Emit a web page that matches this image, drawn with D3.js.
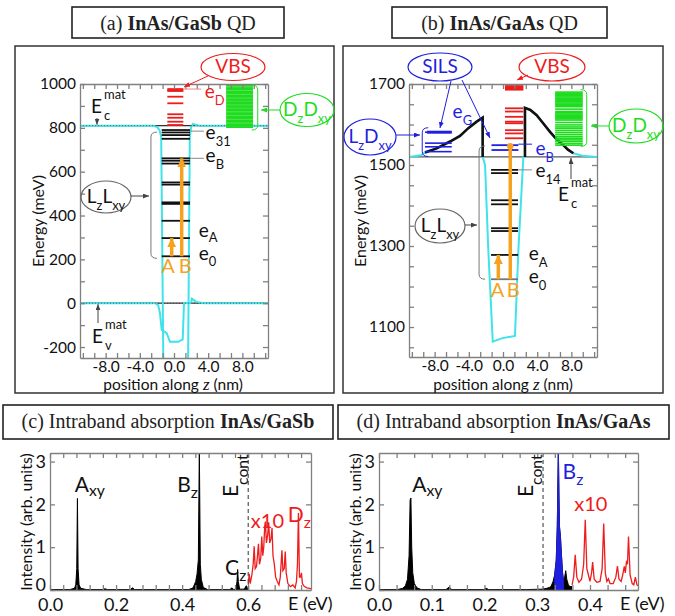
<!DOCTYPE html>
<html>
<head>
<meta charset="utf-8">
<script src="https://cdn.jsdelivr.net/npm/d3@7/dist/d3.min.js"></script>
<style>
  body { margin: 0; background: #fff; }
  svg { display: block; font-family: Lato, "Open Sans", sans-serif; }
</style>
</head>
<body>
<script>
// ---- (a) InAs/GaSb QD : energies in meV, positions in nm
const gasbBound = [214, 297, 376, 453, 460, 541, 551, 637, 650, 661, 750, 767, 779, 790]
const gasbVbs = [968, 972, 977, 942, 912, 862, 846, 828, 813]
const gasbCont = [803, 809, 815, 822, 828, 834, 841, 847, 853, 860, 866, 872, 879, 885, 891, 898,
  904, 910, 917, 923, 929, 936, 942, 948, 955, 961, 967, 974, 980, 986, 993, 998]
const gasbCB = [[-11, 810], [-2.4, 810], [-2.0, 804], [-1.7, 790], [-1.5, 760], [-1.25, -260],
  [1.65, -260], [1.85, 760], [2.0, 802], [2.2, 818], [2.5, 814], [3.0, 810], [11, 810]]
const gasbVB = [[-11, 0], [-2.2, 0], [-1.85, -9], [-1.64, -46], [-1.44, -122], [-0.85, -137],
  [-0.47, -176], [0.51, -176], [1.02, -165], [1.17, 0], [2.0, 2], [2.1, 20], [2.6, 6], [3.5, 0], [11, 0]]
const gasbEcMat = 810
const gasbLevels = { e0: 214, eA: 297, eB: 661, e31: 785, eD: 977 }

// ---- (b) InAs/GaAs QD
const gaasBound = [1218, 1278, 1337, 1344, 1403, 1413, 1480, 1488]
const gaasSilsDot = [1537, 1549]
const gaasSilsSide = [1533, 1545, 1554, 1581]
const gaasVbs = [1686, 1689, 1692, 1695, 1640, 1632, 1619, 1607, 1603, 1586, 1578, 1566]
const gaasCont = [1549, 1553, 1558, 1562, 1566, 1570, 1575, 1580, 1585, 1590, 1594, 1599, 1605,
  1611, 1614, 1617, 1620, 1623, 1626, 1629, 1632, 1638, 1644, 1647, 1650, 1653, 1656, 1659,
  1662, 1665, 1668, 1671, 1674, 1677, 1680]
const gaasStrainL = [[-9.13, 1531], [-7.76, 1541], [-6.2, 1558], [-5.03, 1572], [-4.06, 1591],
  [-3.08, 1607], [-2.38, 1617], [-2.38, 1520]]
const gaasStrainR = [[2.57, 1520], [2.57, 1641], [3.2, 1636], [3.94, 1623], [4.7, 1603],
  [5.5, 1582], [6.3, 1563], [7.06, 1549], [7.6, 1538], [8.23, 1529]]
const gaasCB = [[-11, 1520], [-9.6, 1524], [-9.13, 1531], [-7.76, 1541], [-6.2, 1558],
  [-5.03, 1572], [-4.06, 1591], [-3.08, 1607], [-2.38, 1617], [-2.38, 1520], [-2.1, 1500],
  [-1.72, 1290], [-1.2, 1064], [-0.15, 1072], [1.4, 1078], [1.8, 1290], [2.38, 1520],
  [2.57, 1520], [2.57, 1641], [3.2, 1636], [3.94, 1623], [4.7, 1603], [5.5, 1582], [6.3, 1563],
  [7.06, 1549], [7.6, 1538], [8.23, 1529], [9.3, 1523], [11, 1520]]
const gaasEcMat = 1520
const gaasLevels = { e0: 1218, eA: 1278, e14: 1488, eB: 1549, eG: 1581 }

// ---- (c) absorption InAs/GaSb : [E (eV), intensity]
const gasbSpec = [[0, 0.01], [0.06, 0.01], [0.074, 0.04], [0.078, 0.12], [0.081, 0.5], [0.083, 2.14],
  [0.085, 0.5], [0.088, 0.12], [0.093, 0.04], [0.11, 0.01], [0.16, 0.01], [0.167, 0.03], [0.173, 0.01],
  [0.243, 0.01], [0.25, 0.05], [0.256, 0.01], [0.42, 0.01], [0.433, 0.05], [0.441, 0.2], [0.445, 0.37],
  [0.449, 0.7], [0.452, 3.3], [0.455, 0.6], [0.458, 0.25], [0.464, 0.06], [0.477, 0.01], [0.544, 0.01],
  [0.551, 0.05], [0.556, 0.01], [0.563, 0.02], [0.566, 0.2], [0.568, 0.48], [0.570, 0.2], [0.574, 0.02],
  [0.588, 0.02], [0.594, 0.1], [0.598, 0.03], [0.6, 0.02]]
const gasbSpecX10 = [[0.600, 0.12], [0.603, 0.38], [0.606, 0.15], [0.611, 0.35], [0.615, 0.6],
  [0.618, 1.02], [0.621, 0.5], [0.625, 0.55], [0.628, 0.8], [0.631, 1.08], [0.634, 0.6], [0.638, 0.75],
  [0.641, 1.25], [0.644, 0.8], [0.647, 1.0], [0.650, 1.5], [0.652, 1.6], [0.655, 1.1], [0.659, 1.3],
  [0.662, 1.58], [0.665, 1.1], [0.669, 1.2], [0.672, 1.45], [0.675, 0.8], [0.679, 0.6], [0.683, 0.3],
  [0.688, 0.2], [0.693, 0.12], [0.697, 0.3], [0.702, 0.93], [0.705, 0.45], [0.709, 0.5], [0.712, 0.9],
  [0.715, 0.4], [0.72, 0.15], [0.728, 0.08], [0.735, 0.12], [0.742, 0.05], [0.746, 0.2], [0.749, 0.6],
  [0.752, 1.8], [0.755, 0.3], [0.758, 0.3], [0.761, 0.4], [0.764, 0.15], [0.77, 0.08], [0.778, 0.05],
  [0.79, 0.03]]
const gasbEcont = 0.600

// ---- (d) absorption InAs/GaAs
const gaasSpec = [[0, 0.01], [0.035, 0.01], [0.045, 0.04], [0.05, 0.1], [0.054, 0.25], [0.057, 0.8],
  [0.059, 2.1], [0.0605, 2.15], [0.062, 1.0], [0.064, 0.4], [0.067, 0.15], [0.072, 0.05], [0.08, 0.01],
  [0.127, 0.01], [0.133, 0.07], [0.138, 0.01], [0.198, 0.01], [0.203, 0.04], [0.208, 0.01],
  [0.28, 0.01], [0.31, 0.02], [0.318, 0.04], [0.323, 0.06], [0.326, 0.08], [0.33, 0.2], [0.333, 0.35],
  [0.336, 0.7], [0.338, 1.5], [0.34, 3.3], [0.342, 1.5], [0.344, 1.25], [0.346, 0.8], [0.348, 0.4],
  [0.35, 0.2], [0.352, 0.3], [0.354, 0.45], [0.356, 0.25], [0.359, 0.12], [0.362, 0.08], [0.366, 0.08]]
const gaasBz = [[0.333, 0.35], [0.336, 0.7], [0.338, 1.5], [0.34, 3.3], [0.342, 1.5], [0.344, 1.25],
  [0.346, 0.8], [0.348, 0.4], [0.35, 0.2]]
const gaasSpecX10 = [[0.366, 0.12], [0.369, 0.3], [0.372, 0.82], [0.375, 0.3], [0.379, 0.18],
  [0.384, 0.25], [0.388, 0.6], [0.391, 1.64], [0.394, 0.5], [0.397, 0.35], [0.4, 0.2], [0.403, 0.4],
  [0.405, 0.65], [0.408, 0.25], [0.413, 0.18], [0.419, 0.2], [0.423, 0.5], [0.426, 1.55], [0.429, 0.4],
  [0.432, 0.2], [0.435, 0.26], [0.438, 0.15], [0.444, 0.15], [0.449, 0.3], [0.452, 0.56], [0.455, 0.25],
  [0.459, 0.2], [0.462, 0.35], [0.465, 0.55], [0.467, 0.4], [0.469, 0.65], [0.471, 0.6], [0.473, 1.25],
  [0.476, 0.35], [0.48, 0.15], [0.483, 0.12], [0.486, 0.3], [0.489, 0.12], [0.491, 0.1]]
const gaasEcont = 0.311

// tick labels
const qdXLabels = [-8, -4, 0, 4, 8]
const gasbYLabels = [-200, 0, 200, 400, 600, 800, 1000]
const gaasYLabels = [1100, 1300, 1500, 1700]
const gasbELabels = [0, 0.2, 0.4, 0.6]
const gaasELabels = [0, 0.1, 0.2, 0.3, 0.4]
const intLabels = [0, 1, 2, 3]

const C = { cyan: "#3fe3ea", red: "#ee1c1c", green: "#1fdc1f", blue: "#1f1fe0", orange: "#f6a21e", axis: "#808080" }

const svg = d3.select("body").append("svg").attr("width", 675).attr("height", 616)
const defs = svg.append("defs")

function marker(id, color, len, wid) {
  defs.append("marker").attr("id", id).attr("markerUnits", "userSpaceOnUse")
    .attr("viewBox", `0 0 ${len} ${wid}`).attr("refX", len).attr("refY", wid / 2)
    .attr("markerWidth", len).attr("markerHeight", wid).attr("orient", "auto")
    .append("path").attr("d", `M0,0L${len},${wid / 2}L0,${wid}Z`).attr("fill", color)
}
marker("arK", "#444", 6, 5)
marker("arR", C.red, 6, 5)
marker("arG", C.green, 6, 5)
marker("arB", C.blue, 6, 5)
marker("arO", C.orange, 9, 9)

// text with sub/superscripts, parts = [[text, ""|"sub"|"sup"], ...]
function rich(g, x, y, parts, o = {}) {
  let fs = o.size || 19
  let t = g.append("text").attr("x", x).attr("y", y).attr("font-size", fs)
    .attr("fill", o.color || "#111").attr("text-anchor", o.anchor || "start")
  if (o.rotate) t.attr("transform", `rotate(${o.rotate},${x},${y})`)
  let shift = 0
  parts.forEach(([s, k]) => {
    let target = k === "sub" ? fs * (o.subShift || 0.35) : k === "sup" ? -fs * 0.5 : 0
    t.append("tspan").attr("dy", target - shift).attr("font-size", k ? fs * (o.subScale || 0.68) : fs).text(s)
    shift = target
  })
  return t
}

function eMat(g, x, y, sub) {
  g.append("text").attr("x", x).attr("y", y).attr("font-size", 19).attr("fill", "#111").text("E")
  g.append("text").attr("x", x + 13).attr("y", y - 14).attr("font-size", 13).attr("fill", "#111").text("mat")
  g.append("text").attr("x", x + 13).attr("y", y + 7).attr("font-size", 13).attr("fill", "#111").text(sub)
}

function arrow(g, x1, y1, x2, y2, color, mk) {
  g.append("line").attr("x1", x1).attr("y1", y1).attr("x2", x2).attr("y2", y2)
    .attr("stroke", color).attr("stroke-width", 1).attr("marker-end", `url(#${mk})`)
}

function callout(g, cx, cy, rx, ry, color, parts, tcolor) {
  g.append("ellipse").attr("cx", cx).attr("cy", cy).attr("rx", rx).attr("ry", ry)
    .attr("fill", "none").attr("stroke", color).attr("stroke-width", 1.2)
  rich(g, cx, cy + 6, parts, { anchor: "middle", color: tcolor || color, size: 19 })
}

function titleBox(x0, y0, x1, y1, pre, bold, post) {
  svg.append("rect").attr("x", x0).attr("y", y0).attr("width", x1 - x0).attr("height", y1 - y0)
    .attr("fill", "none").attr("stroke", "#222").attr("stroke-width", 1.6)
  let t = svg.append("text").attr("x", (x0 + x1) / 2).attr("y", y0 + 22.5)
    .attr("text-anchor", "middle").attr("font-family", "'Liberation Serif', 'DejaVu Serif', serif")
    .attr("font-size", 20).attr("fill", "#222")
  t.append("tspan").text(pre)
  t.append("tspan").attr("font-weight", "bold").text(bold)
  t.append("tspan").text(post)
}

function plotBox(id, left, top, width, height, xDomain, yDomain) {
  let g = svg.append("g").attr("transform", `translate(${left},${top})`)
  let x = d3.scaleLinear().domain(xDomain).range([0, width])
  let y = d3.scaleLinear().domain(yDomain).range([height, 0])
  defs.append("clipPath").attr("id", id).append("rect").attr("width", width).attr("height", height)
  let data = g.append("g").attr("clip-path", `url(#${id})`)
  return { g, x, y, data, width, height }
}

function drawAxes(p, xTicks, xFmt, yTicks, yFmt, fs, padX, padY) {
  let style = a => a.attr("font-size", fs).attr("font-family", "Lato, sans-serif")
    .call(s => s.selectAll("path, line").attr("stroke", C.axis).attr("stroke-width", 1.3))
    .call(s => s.selectAll("text").attr("fill", "#111"))
  p.g.append("g").attr("transform", `translate(0,${p.height})`)
    .call(d3.axisBottom(p.x).tickValues(xTicks).tickFormat(xFmt).tickSizeInner(-5).tickSizeOuter(0).tickPadding(padX))
    .call(style)
  p.g.append("g")
    .call(d3.axisTop(p.x).tickValues(xTicks).tickFormat("").tickSizeInner(-5).tickSizeOuter(0))
    .call(style)
  p.g.append("g")
    .call(d3.axisLeft(p.y).tickValues(yTicks).tickFormat(yFmt).tickSizeInner(-5).tickSizeOuter(0).tickPadding(padY))
    .call(style)
  p.g.append("g").attr("transform", `translate(${p.width},0)`)
    .call(d3.axisRight(p.y).tickValues(yTicks).tickFormat("").tickSizeInner(-5).tickSizeOuter(0))
    .call(style)
}

function levels(p, list, x0, x1, color, w) {
  p.data.append("g").selectAll("line").data(list).join("line")
    .attr("x1", p.x(x0)).attr("x2", p.x(x1))
    .attr("y1", d => p.y(d)).attr("y2", d => p.y(d))
    .attr("stroke", color).attr("stroke-width", w)
}

function bracket(g, x, yTop, yBot, dir, color) {
  // dir = +1 opens to the right "[", -1 opens to the left "]"
  let e = 6 * dir
  g.append("path").attr("fill", "none").attr("stroke", color).attr("stroke-width", 1)
    .attr("d", `M${x + e},${yTop} Q${x},${yTop} ${x},${yTop + 5} L${x},${yBot - 5} Q${x},${yBot} ${x + e},${yBot}`)
}

let lineGen = (p) => d3.line().x(d => p.x(d[0])).y(d => p.y(d[1]))

function qdPanel(p, xTickList, yTickList, yLabelFn) {
  drawAxes(p, xTickList, v => qdXLabels.some(l => Math.abs(l - v) < 1e-6) ? v.toFixed(1) : "",
    yTickList, yLabelFn, 15.5, 3, 4)
}

function xLabel(cx, y) {
  let t = svg.append("text").attr("x", cx).attr("y", y).attr("text-anchor", "middle")
    .attr("font-size", 15.5).attr("fill", "#111")
  t.append("tspan").text("position along ")
  t.append("tspan").attr("font-family", "'Liberation Serif', serif").attr("font-style", "italic").attr("font-size", 17).text("z")
  t.append("tspan").text("  (nm)")
}

function yLabel(x, cy, s) {
  svg.append("text").attr("transform", `translate(${x},${cy}) rotate(-90)`)
    .attr("text-anchor", "middle").attr("font-size", 16).attr("fill", "#111").text(s)
}

let qdXTicks = d3.range(-8, 9).map(k => k * 4 / 3)

// ================= (a) =================
titleBox(72, 7, 284, 38, "(a) ", "InAs/GaSb", " QD")
svg.append("rect").attr("x", 15).attr("y", 46).attr("width", 319).attr("height", 347)
  .attr("fill", "none").attr("stroke", "#333").attr("stroke-width", 1.5)

let pa = plotBox("clipA", 80, 84, 188, 274, [-11, 11], [-250, 1000])
{
  let { x, y, data } = pa
  ;[0, gasbEcMat].forEach(v => data.append("line").attr("x1", 0).attr("x2", pa.width)
    .attr("y1", y(v)).attr("y2", y(v)).attr("stroke", "#333").attr("stroke-width", 1.2))
  data.append("path").datum(gasbCB).attr("d", lineGen(pa)).attr("fill", "none").attr("stroke", C.cyan).attr("stroke-width", 2)
  data.append("path").datum(gasbVB).attr("d", lineGen(pa)).attr("fill", "none").attr("stroke", C.cyan).attr("stroke-width", 2)
  ;[0, gasbEcMat].forEach(v => data.append("line").attr("x1", 0).attr("x2", pa.width)
    .attr("y1", y(v)).attr("y2", y(v)).attr("stroke", "#333").attr("stroke-width", 1).attr("stroke-dasharray", "1,2").attr("opacity", 0.6))
  levels(pa, gasbCont, 6.1, 9.25, C.green, 1.6)
  levels(pa, gasbVbs, -0.78, 1.09, C.red, 1.8)
  levels(pa, gasbBound, -1.44, 1.87, "#111", 1.8)
  data.append("line").attr("x1", x(-0.27)).attr("x2", x(-0.27)).attr("y1", y(gasbLevels.e0)).attr("y2", y(gasbLevels.eA))
    .attr("stroke", C.orange).attr("stroke-width", 3.5).attr("marker-end", "url(#arO)")
  data.append("line").attr("x1", x(0.9)).attr("x2", x(0.9)).attr("y1", y(gasbLevels.e0)).attr("y2", y(gasbLevels.eB))
    .attr("stroke", C.orange).attr("stroke-width", 3.5).attr("marker-end", "url(#arO)")
}
qdPanel(pa, qdXTicks, d3.range(-200, 1001, 100), v => gasbYLabels.includes(v) ? v : "")
{
  let g = pa.g, x = pa.x, y = pa.y
  let L = gasbLevels
  // level labels with leader lines
  g.append("line").attr("x1", x(1.1)).attr("x2", x(3.2)).attr("y1", y(L.eD)).attr("y2", y(L.eD)).attr("stroke", "#e88").attr("stroke-width", 1)
  g.append("line").attr("x1", x(1.9)).attr("x2", x(3.5)).attr("y1", y(L.e31)).attr("y2", y(L.e31)).attr("stroke", "#888").attr("stroke-width", 1)
  g.append("line").attr("x1", x(1.9)).attr("x2", x(3.5)).attr("y1", y(L.eB)).attr("y2", y(L.eB)).attr("stroke", "#888").attr("stroke-width", 1)
  rich(g, x(3.6), y(L.eD) + 9, [["e", ""], ["D", "sub"]], { color: C.red })
  rich(g, x(3.7), y(L.e31) + 8, [["e", ""], ["31", "sub"]])
  rich(g, x(3.7), y(L.eB) + 4, [["e", ""], ["B", "sub"]])
  rich(g, x(2.9), y(L.eA) - 1, [["e", ""], ["A", "sub"]], { subShift: 0.28 })
  rich(g, x(2.9), y(L.e0) + 4, [["e", ""], ["0", "sub"]], { subShift: 0.28 })
  rich(g, x(-0.7), y(L.e0) + 17, [["A", ""]], { color: C.orange, anchor: "middle", size: 20 })
  rich(g, x(1.3), y(L.e0) + 17, [["B", ""]], { color: C.orange, anchor: "middle", size: 20 })
  bracket(g, x(-2.7), y(L.e31) + 1, y(L.e0) + 2, 1, "#777")
  bracket(g, x(9.8), y(1000) + 1, y(790), -1, C.green)
}
callout(svg, 233, 67, 32, 13.5, C.red, [["VBS", ""]])
arrow(svg, 208, 76, 184, 87, C.red, "arR")
callout(svg, 307, 110, 27, 16.5, C.green, [["D", ""], ["z", "sub"], ["D", ""], ["xy", "sub"]])
arrow(svg, 280, 110, 261, 110, C.green, "arG")
callout(svg, 106, 197, 25, 16, "#666", [["L", ""], ["z", "sub"], ["L", ""], ["xy", "sub"]], "#111")
arrow(svg, 131, 196, 149, 196, "#444", "arK")
eMat(svg, 91, 113, "c")
arrow(svg, 97, 118, 97, pa.y(gasbEcMat) + 84 - 1, "#444", "arK")
eMat(svg, 92, 343, "v")
arrow(svg, 98, 323, 98, pa.y(0) + 84 + 1, "#444", "arK")
yLabel(44, 221, "Energy (meV)")
xLabel(173, 390)

// ================= (b) =================
titleBox(392, 7, 607, 38, "(b) ", "InAs/GaAs", " QD")
svg.append("rect").attr("x", 343).attr("y", 46).attr("width", 320).attr("height", 347)
  .attr("fill", "none").attr("stroke", "#333").attr("stroke-width", 1.5)

let pb = plotBox("clipB", 409, 84, 188, 273, [-11, 11], [1026, 1700])
{
  let { x, y, data } = pb
  data.append("line").attr("x1", 0).attr("x2", pb.width).attr("y1", y(gaasEcMat)).attr("y2", y(gaasEcMat))
    .attr("stroke", "#555").attr("stroke-width", 1.2)
  data.append("path").datum(gaasCB).attr("d", lineGen(pb)).attr("fill", "none").attr("stroke", C.cyan).attr("stroke-width", 2)
  data.append("path").datum(gaasStrainL).attr("d", lineGen(pb)).attr("fill", "none").attr("stroke", "#111").attr("stroke-width", 2.6)
  data.append("path").datum(gaasStrainR).attr("d", lineGen(pb)).attr("fill", "none").attr("stroke", "#111").attr("stroke-width", 2.6)
  levels(pb, gaasCont, 6.1, 9.33, C.green, 1.6)
  levels(pb, gaasVbs, 0.23, 2.38, C.red, 1.8)
  levels(pb, gaasSilsSide, -9.13, -6.0, C.blue, 1.6)
  levels(pb, [gaasLevels.eG], -8.9, -6.0, C.blue, 3)
  levels(pb, gaasSilsDot, -1.35, 1.8, C.blue, 1.8)
  levels(pb, gaasBound.slice(1), -1.4, 1.76, "#111", 1.8)
  levels(pb, [gaasLevels.e0], -1.4, 1.76, "#777", 1.8)
  data.append("line").attr("x1", x(-0.55)).attr("x2", x(-0.55)).attr("y1", y(gaasLevels.e0)).attr("y2", y(gaasLevels.eA))
    .attr("stroke", C.orange).attr("stroke-width", 3.5).attr("marker-end", "url(#arO)")
  data.append("line").attr("x1", x(0.85)).attr("x2", x(0.85)).attr("y1", y(gaasLevels.e0)).attr("y2", y(gaasLevels.eB))
    .attr("stroke", C.orange).attr("stroke-width", 3.5)
  data.append("circle").attr("cx", x(0.85)).attr("cy", y(gaasLevels.eB) + 1).attr("r", 3.2).attr("fill", C.orange)
}
qdPanel(pb, qdXTicks, d3.range(1050, 1701, 50), v => gaasYLabels.includes(v) ? v : "")
{
  let g = pb.g, x = pb.x, y = pb.y
  let L = gaasLevels
  g.append("line").attr("x1", x(1.8)).attr("x2", x(3.4)).attr("y1", y(L.eB) - 1).attr("y2", y(L.eB) - 1).attr("stroke", C.blue).attr("stroke-width", 1)
  g.append("line").attr("x1", x(1.76)).attr("x2", x(3.4)).attr("y1", y(L.e14)).attr("y2", y(L.e14)).attr("stroke", "#888").attr("stroke-width", 1)
  rich(g, x(3.8), y(L.eB) + 10, [["e", ""], ["B", "sub"]], { color: C.blue })
  rich(g, x(3.8), y(L.e14) + 7, [["e", ""], ["14", "sub"]])
  rich(g, x(-5.9), y(L.eG) - 14, [["e", ""], ["G", "sub"]], { color: C.blue })
  rich(g, x(3.0), y(L.eA) + 5, [["e", ""], ["A", "sub"]])
  rich(g, x(3.0), y(L.e0) + 4, [["e", ""], ["0", "sub"]])
  rich(g, x(-0.65), y(L.e0) + 18, [["A", ""]], { color: C.orange, anchor: "middle", size: 20 })
  rich(g, x(1.2), y(L.e0) + 18, [["B", ""]], { color: C.orange, anchor: "middle", size: 20 })
  bracket(g, x(-2.8), y(1547), y(L.e0), 1, "#777")
  bracket(g, x(-9.45), y(1592), y(1521), 1, C.blue)
  bracket(g, x(9.8), y(1686), y(1546), -1, C.green)
}
callout(svg, 440, 67, 32, 14, C.blue, [["SILS", ""]])
arrow(svg, 451, 81, 440, 128, C.blue, "arB")
arrow(svg, 462, 80, 490, 138, C.blue, "arB")
callout(svg, 552, 67, 33, 14, C.red, [["VBS", ""]])
arrow(svg, 528, 75, 517, 80, C.red, "arR")
callout(svg, 370, 137, 26, 18, C.blue, [["L", ""], ["z", "sub"], ["D", ""], ["xy", "sub"]])
arrow(svg, 396, 135, 420, 135, C.blue, "arB")
callout(svg, 636, 126, 27, 17, C.green, [["D", ""], ["z", "sub"], ["D", ""], ["xy", "sub"]])
arrow(svg, 609, 126, 591, 126, C.green, "arG")
callout(svg, 440, 226, 25, 17, "#666", [["L", ""], ["z", "sub"], ["L", ""], ["xy", "sub"]], "#111")
arrow(svg, 465, 225, 477, 225, "#444", "arK")
eMat(svg, 558, 201, "c")
arrow(svg, 571, 179, 571, pb.y(gaasEcMat) + 84 + 1, "#444", "arK")
yLabel(366, 221, "Energy (meV)")
xLabel(503, 390)

// ================= (c) & (d) spectra =================
function specPanel(p, black, x10, econt, eTicks, eLabels) {
  let { x, y, data } = p
  let area = d3.area().x(d => x(d[0])).y0(y(0)).y1(d => y(d[1]))
  data.append("path").datum(black).attr("d", area).attr("fill", "#000")
  data.append("path").datum(black).attr("d", lineGen(p)).attr("fill", "none").attr("stroke", "#000").attr("stroke-width", 1)
  data.append("path").datum(x10).attr("d", lineGen(p)).attr("fill", "none").attr("stroke", C.red).attr("stroke-width", 1.3)
  data.append("line").attr("x1", x(econt)).attr("x2", x(econt)).attr("y1", 0).attr("y2", p.height)
    .attr("stroke", "#555").attr("stroke-width", 1.2).attr("stroke-dasharray", "4,3")
  drawAxes(p, eTicks, v => eLabels.some(l => Math.abs(l - v) < 1e-6) ? v.toFixed(1) : "",
    [0, 1, 2, 3], v => intLabels.includes(v) ? v : "", 18, 8, 4)
}

let subOpt = { size: 21, subScale: 0.75, subShift: 0.3 }

titleBox(3, 405, 333, 439, "(c) Intraband absorption ", "InAs/GaSb", "")
let pc = plotBox("clipC", 50, 453, 261, 137, [0, 0.79], [0, 3.2])
specPanel(pc, gasbSpec, gasbSpecX10, gasbEcont, d3.range(0, 20).map(k => k * 0.04), gasbELabels)
{
  let g = pc.g, x = pc.x, y = pc.y
  rich(g, x(0.075), y(2.3), [["A", ""], ["xy", "sub"]], { ...subOpt, subShift: 0.2 })
  rich(g, x(0.385), y(2.3), [["B", ""], ["z", "sub"]], subOpt)
  rich(g, x(0.53), y(0.35), [["C", ""], ["z", "sub"]], subOpt)
  rich(g, x(gasbEcont - 0.03), y(2.17), [["E", ""], ["cont", "sub"]], { ...subOpt, subShift: 0.45, rotate: -90 })
  rich(g, x(0.608), y(1.45), [["x10", ""]], { size: 20, color: C.red })
  rich(g, x(0.72), y(1.6), [["D", ""], ["z", "sub"]], { ...subOpt, color: C.red })
}
svg.append("text").attr("x", 288).attr("y", 610).attr("font-size", 18).attr("fill", "#111").text("E (eV)")
yLabel(32, 522, "Intensity (arb. units)")

titleBox(338, 405, 669, 439, "(d) Intraband absorption ", "InAs/GaAs", "")
let pd = plotBox("clipD", 379, 453, 259, 137, [0, 0.491], [0, 3.2])
specPanel(pd, gaasSpec, gaasSpecX10, gaasEcont, d3.range(0, 15).map(k => k * 0.1 / 3), gaasELabels)
{
  let { x, y, data } = pd
  let area = d3.area().x(d => x(d[0])).y0(y(0)).y1(d => y(d[1]))
  data.append("path").datum(gaasBz).attr("d", area).attr("fill", C.blue).attr("stroke", C.blue).attr("stroke-width", 0.8)
  let g = pd.g
  rich(g, x(0.063), y(2.3), [["A", ""], ["xy", "sub"]], { ...subOpt, subShift: 0.2 })
  rich(g, x(gaasEcont - 0.019), y(2.17), [["E", ""], ["cont", "sub"]], { ...subOpt, subShift: 0.45, rotate: -90 })
  rich(g, x(0.348), y(2.6), [["B", ""], ["z", "sub"]], { ...subOpt, color: C.blue })
  rich(g, x(0.37), y(1.85), [["x10", ""]], { size: 20, color: C.red })
}
svg.append("text").attr("x", 620).attr("y", 610).attr("font-size", 18).attr("fill", "#111").text("E (eV)")
yLabel(361, 522, "Intensity (arb. units)")

// lift the "0" intensity labels so they clear the energy tick labels
;[pc, pd].forEach(p => p.g.selectAll(".tick text").filter(function () {
  return this.textContent === "0" && this.getAttribute("x") !== null && +this.getAttribute("x") < 0
}).attr("dy", "0em"))
</script>
</body>
</html>
